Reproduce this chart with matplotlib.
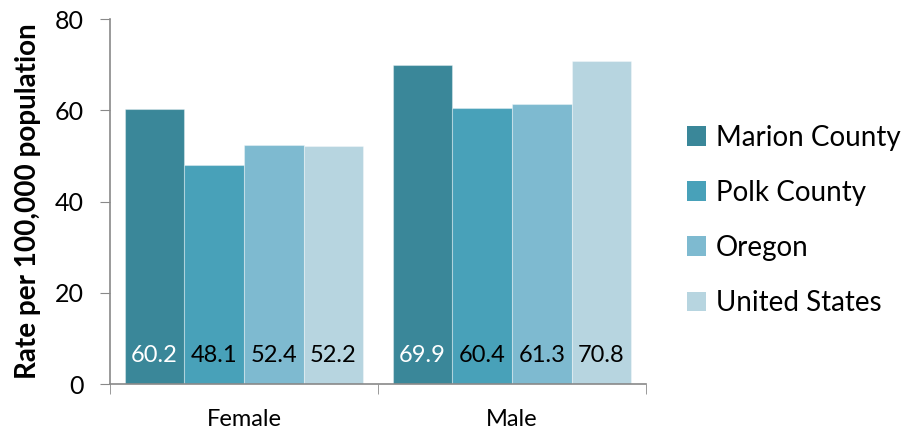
import numpy as np
import matplotlib.pyplot as plt
from matplotlib.patches import Patch

plt.rcParams["font.family"] = ["Lato", "DejaVu Sans"]

categories = ["Female", "Male"]
series = ["Marion County", "Polk County", "Oregon", "United States"]
values = {
    "Marion County": [60.2, 69.9],
    "Polk County": [48.1, 60.4],
    "Oregon": [52.4, 61.3],
    "United States": [52.2, 70.8],
}
colors = ["#3A8799", "#48A1B9", "#7EBAD0", "#B7D5E0"]
label_colors = ["white", "black", "black", "black"]

fig = plt.figure(figsize=(9.14, 4.32), dpi=100)
ax = fig.add_axes([0.1204, 0.1111, 0.5864, 0.8449])

x = np.arange(len(categories))
bar_w = 0.2225
for i, name in enumerate(series):
    pos = x + (i - 1.5) * bar_w
    ax.bar(pos, values[name], bar_w, color=colors[i],
           edgecolor=(1, 1, 1, 0.35), linewidth=0.8)
    for p, v in zip(pos, values[name]):
        ax.text(p, 6.3, f"{v:.1f}", ha="center", va="center",
                fontsize=17, color=label_colors[i])

ax.set_xlim(-0.5, 1.5)
ax.set_ylim(0, 80)
ax.set_yticks([0, 20, 40, 60, 80])
ax.set_xticks(x)
ax.set_xticklabels(categories, fontsize=17)
ax.set_xticks([-0.5, 0.5, 1.5], minor=True)
ax.tick_params(axis="x", which="major", length=0, pad=18)
ax.tick_params(axis="x", which="minor", length=7, color="#898989")
ax.tick_params(axis="y", length=7, color="#898989", labelsize=18, pad=12)
ax.set_ylabel("Rate per 100,000 population", fontsize=20,
              fontweight="bold", labelpad=10)

for s in ["top", "right"]:
    ax.spines[s].set_visible(False)
for s in ["left", "bottom"]:
    ax.spines[s].set_color("#898989")
    ax.spines[s].set_linewidth(1.2)

handles = [Patch(facecolor=c) for c in colors]
fig.legend(handles, series, loc="center left", bbox_to_anchor=(0.724, 0.49),
           frameon=False, fontsize=20, handlelength=0.7, handleheight=0.7,
           handletextpad=0.35, labelspacing=1.05)

fig.savefig("out.png", dpi=100)
